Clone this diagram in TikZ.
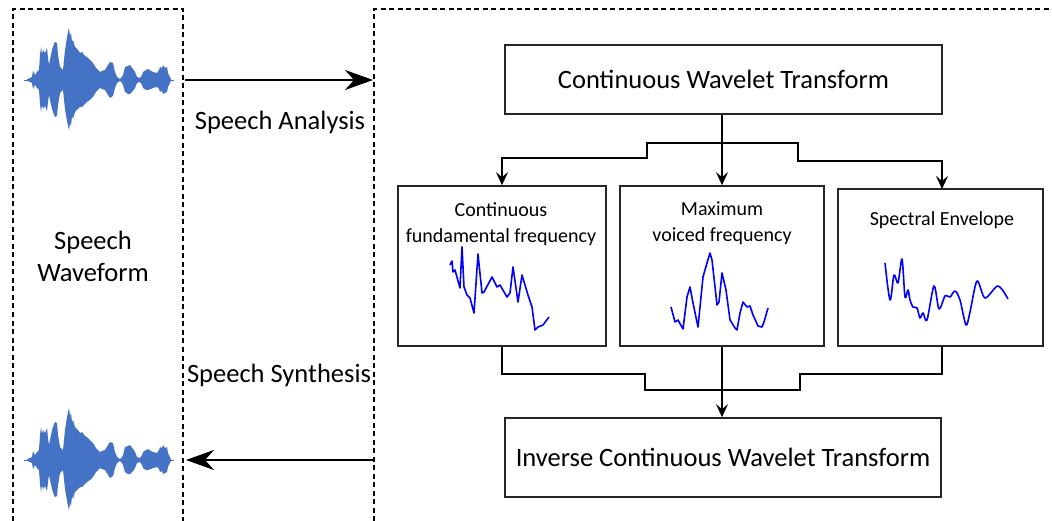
\documentclass[tikz,border=0pt]{standalone}
\usepackage{fontspec}
\setmainfont{Carlito}
\usetikzlibrary{arrows.meta}
\definecolor{wave}{HTML}{4472C4}
\definecolor{boxline}{HTML}{262626}
\begin{document}
\begin{tikzpicture}[x=1pt,y=-1pt,
  box/.style={draw=boxline,line width=1.6pt,inner sep=0pt},
  dashline/.style={draw=black,line width=1.2pt,dash pattern=on 5pt off 3.5pt},
  bigarrow/.style={line width=2.2pt,-{Stealth[length=28pt,width=20pt,inset=9pt]}},
  conn/.style={draw=black,line width=2pt},
  connarrow/.style={conn,-{Stealth[length=13pt,width=12pt,inset=5pt]}},
  curve/.style={draw=blue,line width=1.6pt,line join=round},
  lbl/.style={font=\fontsize{26.5}{30}\selectfont,inner sep=0pt},
  title/.style={font=\fontsize{26.5}{30}\selectfont},
  small/.style={font=\fontsize{20}{26}\selectfont,inner sep=0pt,align=center},
  waveform/.pic={
    \fill[wave] (27,-0.7) -- (30,-2) -- (32,-3) -- (33,-9) -- (35,-5) -- (37,-8) -- (39,-10) -- (40,-25) -- (41,-33) -- (42,-26) -- (43,-30) -- (45,-27) -- (47,-32) -- (48,-22) -- (49,-15) -- (50,-20) -- (52,-30) -- (54,-36) -- (55,-38) -- (57,-37) -- (58,-25) -- (60,-13) -- (62,-11) -- (63,-10) -- (65,-30) -- (67,-43) -- (68,-48) -- (69,-52) -- (70,-44) -- (71,-47) -- (72,-38) -- (73,-40) -- (75,-33) -- (78,-30) -- (80,-27) -- (82,-28) -- (85,-24) -- (87,-23) -- (90,-20) -- (93,-17) -- (96,-12) -- (100,-8) -- (102,-9) -- (105,-10) -- (108,-15) -- (110,-18) -- (113,-17) -- (115,-8) -- (117,-3) -- (120,-1) -- (122,-3) -- (123,-5) -- (125,-13) -- (128,-14) -- (130,-15) -- (133,-11) -- (135,-8) -- (137,-3) -- (140,-2) -- (142,-5) -- (143,-8) -- (146,-10) -- (148,-11) -- (151,-9) -- (153,-8) -- (157,-7) -- (159,-10) -- (160,-13) -- (162,-12) -- (163,-15) -- (165,-12) -- (167,-13) -- (168,-7) -- (171,-0.7)
      -- (171,0.7) -- (168,7) -- (167,12) -- (165,13) -- (163,14) -- (162,11) -- (160,12) -- (159,9) -- (157,7) -- (153,8) -- (151,9) -- (148,10) -- (146,10) -- (143,8) -- (142,5) -- (140,2) -- (137,3) -- (135,8) -- (133,11) -- (130,14) -- (128,14) -- (125,12) -- (123,5) -- (122,3) -- (120,1) -- (117,3) -- (115,8) -- (113,16) -- (110,18) -- (108,15) -- (105,10) -- (102,9) -- (100,8) -- (96,12) -- (93,17) -- (90,20) -- (87,22) -- (85,24) -- (82,27) -- (80,27) -- (78,29) -- (75,32) -- (73,39) -- (72,36) -- (71,46) -- (70,43) -- (69,50) -- (68,46) -- (67,41) -- (65,29) -- (63,10) -- (62,11) -- (60,13) -- (58,25) -- (57,36) -- (55,37) -- (54,35) -- (52,29) -- (50,20) -- (49,15) -- (48,22) -- (47,31) -- (45,26) -- (43,29) -- (42,25) -- (41,32) -- (40,24) -- (39,10) -- (37,8) -- (35,5) -- (33,9) -- (32,3) -- (30,2) -- (27,0.7) -- cycle;
    \draw[wave,line width=0.8pt] (24,0) -- (174,0);
  }]
\useasboundingbox (0,0) rectangle (1052,521);

% dashed frames
\draw[dashline] (13,521) -- (13,9) -- (183,9) -- (183,521);
\draw[dashline] (374,521) -- (374,9) -- (1052,9);

% waveforms
\pic at (0,80) {waveform};
\pic at (0,460) {waveform};
\coordinate (wtop) at (185,80);
\coordinate (rtop) at (373,80);
\coordinate (wbot) at (186,460);
\coordinate (rbot) at (374,460);
\draw[bigarrow] (wtop) -- (rtop);
\draw[bigarrow] (rbot) -- (wbot);

\node[lbl] (ana) at (280,122) {Speech Analysis};
\node[lbl] (syn) at (279,375) {Speech Synthesis};
\node[lbl,align=center,font=\fontsize{26.5}{32}\selectfont] (sw) at (93,256) {Speech\\Waveform};

% main boxes
\node[box,title,minimum width=437pt,minimum height=69pt] (cwt) at (723.5,79.5) {Continuous Wavelet Transform};
\node[box,title,minimum width=436pt,minimum height=79pt] (icwt) at (723,457.5) {Inverse Continuous Wavelet Transform};

\node[box,minimum width=208pt,minimum height=160pt] (b1) at (502,266) {};
\node[box,minimum width=204pt,minimum height=160pt] (b2) at (722,266) {};
\node[box,minimum width=205pt,minimum height=157pt] (b3) at (940.5,267.5) {};

\node[small] (t1) at (501,224) {Continuous\\fundamental frequency};
\node[small] (t2) at (722,223) {Maximum\\voiced frequency};
\node[small] (t3) at (942,220) {Spectral Envelope};

% connectors top
\draw[connarrow] (cwt.south -| b2.north) -- (b2.north);
\draw[connarrow] (723,143) -- (647,143) -- (647,158) -- (502,158) -- (b1.north);
\draw[connarrow] (723,143) -- (798,143) -- (798,161) -- (942,161) -- (942,189);

% connectors bottom
\draw[conn] (b1.south) -- (502,374) -- (645,374) -- (645,390) -- (800,390) -- (800,374) -- (942,374) -- (942,346);
\draw[connarrow] (b2.south) -- (icwt.north -| b2.south);

% curves
\draw[curve] plot coordinates {(450,265) (452,261) (453,272) (455,270) (460,288) (462,247) (464,287) (467,295) (470,298) (474,313) (478,254) (482,293) (484,292) (492,277) (497,287) (500,285) (507,297) (510,293) (513,267) (518,302) (522,275) (528,295) (532,307) (535,330) (538,327) (543,325) (549,317)};
\draw[curve] plot coordinates {(671,307) (675,322) (678,320) (683,329) (687,297) (690,287) (693,303) (698,327) (703,277) (707,263) (710,253) (712,260) (717,305) (719,302) (722,273) (726,290) (730,320) (735,328) (737,330) (740,313) (743,302) (747,307) (750,306) (753,315) (758,326) (762,327) (764,322) (768,308)};
\draw[curve] plot[smooth,tension=0.5] coordinates {(885,263) (890,300) (894,275) (898,283) (902,259) (905,297) (908,290) (910,300) (913,307) (917,308) (920,318) (923,313) (927,320) (934,286) (939,309) (945,296) (950,297) (955,291) (960,300) (966,325) (970,312) (977,281) (985,298) (998,286) (1008,299)};
\end{tikzpicture}
\end{document}
